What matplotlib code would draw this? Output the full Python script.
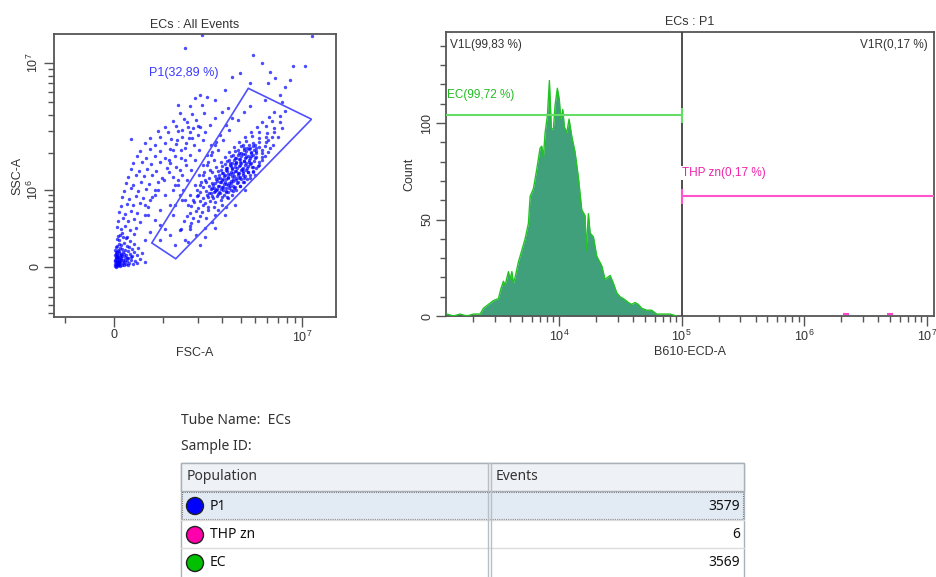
import matplotlib
matplotlib.use('Agg')
import matplotlib.pyplot as plt
from matplotlib.patches import Polygon, Circle, Rectangle
from matplotlib.ticker import NullFormatter

plt.rcParams['font.family'] = ['Liberation Sans', 'DejaVu Sans']
plt.rcParams['mathtext.fontset'] = 'custom'
plt.rcParams['mathtext.rm'] = 'Liberation Sans'
plt.rcParams['mathtext.it'] = 'Liberation Sans:italic'

M = 1e6  # scatter values below are in millions

# FSC-A / SSC-A events
debris_fsc = [0.02, 0.04, 0.06, 0.08, 0.10, 0.12, 0.15, 0.18, 0.22, 0.03, 0.05, 0.07, 0.09, 0.11, 0.14,
              0.17, 0.20, 0.25, 0.28, 0.03, 0.06, 0.08, 0.10, 0.13, 0.16, 0.19, 0.23, 0.27, 0.32, 0.36,
              0.04, 0.07, 0.11, 0.15, 0.21, 0.26, 0.30, 0.35, 0.40, 0.45, 0.05, 0.09, 0.13, 0.18, 0.24,
              0.29, 0.34, 0.39, 0.44, 0.50, 0.06, 0.10, 0.16, 0.22, 0.31, 0.38, 0.47, 0.55, 0.60, 0.12,
              0.01, 0.03, 0.05, 0.07, 0.09, 0.02, 0.04, 0.06, 0.08, 0.12, 0.01, 0.03, 0.05, 0.13, 0.16,
              0.02, 0.04, 0.07, 0.09, 0.11, 0.14, 0.19, 0.24, 0.01, 0.06, 0.10, 0.15, 0.20, 0.26, 0.33]
debris_ssc = [0.01, 0.02, 0.01, 0.03, 0.02, 0.04, 0.02, 0.05, 0.03, 0.05, 0.07, 0.05, 0.08, 0.06, 0.09,
              0.07, 0.10, 0.06, 0.04, 0.10, 0.12, 0.11, 0.14, 0.12, 0.15, 0.13, 0.12, 0.09, 0.07, 0.03,
              0.15, 0.17, 0.19, 0.18, 0.17, 0.16, 0.13, 0.11, 0.06, 0.04, 0.21, 0.23, 0.22, 0.24, 0.21,
              0.20, 0.18, 0.15, 0.12, 0.08, 0.28, 0.27, 0.30, 0.29, 0.26, 0.23, 0.19, 0.14, 0.05, 0.33,
              0.03, 0.00, 0.04, 0.02, 0.05, 0.07, 0.09, 0.03, 0.06, 0.01, 0.12, 0.13, 0.10, 0.07, 0.04,
              0.17, 0.20, 0.09, 0.16, 0.10, 0.13, 0.02, 0.09, 0.06, 0.15, 0.04, 0.11, 0.07, 0.02, 0.10]

plume_fsc = [0.076, 0.152, 0.25, 0.38, 0.057, 0.13, 0.21, 0.31, 0.42, 0.076, 0.17, 0.27, 0.39, 0.50,
             0.095, 0.21, 0.33, 0.44, 0.61, 0.13, 0.25, 0.37, 0.50, 0.67, 0.15, 0.29, 0.42, 0.57, 0.75,
             0.19, 0.33, 0.47, 0.63, 0.82, 0.23, 0.37, 0.52, 0.69, 0.89, 0.27, 0.42, 0.59, 0.75, 0.99,
             0.33, 0.48, 0.65, 0.84, 1.10, 0.37, 0.54, 0.73, 0.94, 1.18, 0.44, 0.63, 0.82, 1.06, 1.32,
             0.50, 0.71, 0.94, 1.18, 1.48, 0.61, 0.82, 1.06, 1.35, 1.63, 0.71, 0.94, 1.20, 1.50, 1.80,
             0.89, 1.13, 1.40, 1.75, 1.06, 1.35, 1.70, 2.00, 1.25, 1.57, 1.95, 1.45, 1.80, 2.23,
             1.40, 1.75, 2.15, 1.91, 2.35, 0.33]
plume_ssc = [0.32, 0.35, 0.31, 0.34, 0.42, 0.40, 0.43, 0.39, 0.41, 0.50, 0.53, 0.49, 0.52, 0.48,
             0.62, 0.59, 0.63, 0.60, 0.58, 0.71, 0.75, 0.72, 0.76, 0.70, 0.86, 0.83, 0.88, 0.84, 0.87,
             0.98, 1.03, 0.97, 1.02, 0.99, 1.15, 1.11, 1.17, 1.13, 1.16, 1.28, 1.33, 1.30, 1.35, 1.27,
             1.50, 1.44, 1.49, 1.45, 1.52, 1.66, 1.71, 1.64, 1.70, 1.67, 1.90, 1.84, 1.89, 1.85, 1.92,
             2.10, 2.17, 2.08, 2.15, 2.11, 2.40, 2.34, 2.42, 2.36, 2.41, 2.62, 2.70, 2.60, 2.68, 2.63,
             3.00, 2.93, 3.02, 2.95, 3.22, 3.30, 3.20, 3.28, 3.60, 3.70, 3.62, 4.15, 4.05, 4.12,
             4.75, 4.65, 4.80, 5.35, 5.45, 2.60]

between_fsc = [1.06, 1.32, 1.18, 1.45, 0.94, 1.60, 0.82, 1.25, 0.94, 1.18, 1.45, 1.06, 1.32, 0.71,
               1.75, 0.61, 1.60, 4.98, 5.54, 4.28, 3.67, 3.14, 2.68, 2.27, 6.05, 2.09,
               0.71, 0.89, 1.03, 1.15, 0.61, 0.82, 1.25, 1.40, 1.51, 0.94, 0.67, 1.32]
between_ssc = [0.90, 1.10, 0.73, 1.47, 0.65, 1.77, 0.51, 0.58, 0.27, 0.33, 0.385, 0.40, 0.22, 0.36,
               0.40, 0.27, 0.27, 1.34, 2.13, 1.00, 0.73, 0.58, 0.41, 0.30, 2.55, 0.22,
               0.81, 1.00, 1.22, 1.42, 0.73, 0.90, 1.00, 1.22, 0.81, 0.45, 0.58, 0.73]

# events straddling the upper-left edge of the gate
bridge_fsc = [1.69, 1.84, 1.98, 2.13, 2.23, 2.39, 2.55, 2.72, 1.75, 1.91, 2.05, 2.20, 2.35, 2.51,
              1.60, 1.54, 1.66, 1.78, 1.91, 2.05, 2.20, 1.45, 1.40, 1.51, 1.63, 1.75, 1.87, 2.02,
              1.25, 1.35, 1.48, 1.60, 1.72, 1.84, 1.15, 1.25, 1.37, 1.51, 1.66,
              2.09, 2.27, 2.47, 2.68, 3.00, 3.30]
bridge_ssc = [0.73, 0.81, 1.00, 1.17, 1.42, 1.71, 2.05, 2.46, 0.90, 1.10, 1.34, 1.62, 1.94, 2.33,
              0.81, 1.00, 1.22, 1.47, 1.77, 2.13, 2.55, 0.90, 1.10, 1.34, 1.62, 1.94, 2.33, 2.79,
              1.28, 1.56, 1.84, 2.21, 2.65, 3.16, 1.77, 2.13, 2.55, 3.05, 3.53,
              3.22, 2.94, 3.34, 3.80, 4.21, 4.50]

cells_fsc = [1.48, 1.75, 1.57, 1.78, 2.02, 1.66, 1.84, 2.09, 2.31, 1.75, 1.95, 2.16, 2.39,
             1.78, 2.02, 2.20, 2.39, 2.64, 1.87, 2.09, 2.27, 2.47, 2.68, 2.95,
             1.98, 2.20, 2.39, 2.60, 2.77, 3.00, 3.24, 2.09, 2.31, 2.51, 2.68, 2.86, 3.04, 3.30, 3.56,
             2.20, 2.43, 2.64, 2.81, 3.00, 3.19, 3.40, 3.67, 3.96,
             2.31, 2.55, 2.77, 2.95, 3.14, 3.35, 3.56, 3.84, 4.15,
             2.43, 2.68, 2.90, 3.09, 3.30, 3.51, 3.73, 3.96, 4.28, 4.62,
             2.55, 2.81, 3.04, 3.24, 3.45, 3.67, 3.90, 4.15, 4.48, 4.84,
             2.72, 3.00, 3.24, 3.45, 3.67, 3.90, 4.15, 4.48, 4.84, 5.21,
             2.95, 3.24, 3.51, 3.73, 3.96, 4.22, 4.55, 4.91, 5.29,
             3.14, 3.45, 3.73, 4.02, 4.35, 4.69, 5.06, 5.54,
             3.35, 3.67, 4.02, 4.35, 4.69, 5.06, 5.54, 3.62, 4.02, 4.42, 4.84, 5.29, 5.78,
             3.90, 4.35, 4.84, 5.29, 5.87, 4.28, 4.76, 5.29, 5.87, 6.43,
             4.69, 5.29, 5.96, 6.63, 5.14, 5.87, 6.63, 5.54, 6.43, 7.23, 6.14, 7.23, 6.63, 7.8]
cells_ssc = [0.40, 0.43, 0.49, 0.47, 0.50, 0.56, 0.53, 0.57, 0.54, 0.61, 0.64, 0.62, 0.65,
             0.71, 0.68, 0.72, 0.69, 0.70, 0.77, 0.80, 0.76, 0.79, 0.78, 0.81,
             0.88, 0.85, 0.87, 0.84, 0.89, 0.86, 0.87, 0.95, 0.98, 0.94, 0.97, 0.96, 0.99, 0.95, 0.97,
             1.05, 1.08, 1.03, 1.07, 1.06, 1.04, 1.08, 1.05, 1.07,
             1.17, 1.14, 1.19, 1.16, 1.18, 1.15, 1.20, 1.16, 1.17,
             1.27, 1.31, 1.26, 1.30, 1.28, 1.32, 1.27, 1.29, 1.30, 1.26,
             1.41, 1.44, 1.39, 1.43, 1.42, 1.45, 1.40, 1.43, 1.41, 1.44,
             1.55, 1.58, 1.53, 1.57, 1.56, 1.59, 1.54, 1.57, 1.55, 1.58,
             1.70, 1.74, 1.69, 1.72, 1.71, 1.75, 1.70, 1.73, 1.72,
             1.86, 1.90, 1.85, 1.89, 1.87, 1.91, 1.86, 1.88,
             2.04, 2.08, 2.02, 2.07, 2.05, 2.09, 2.03, 2.24, 2.28, 2.22, 2.27, 2.25, 2.29,
             2.45, 2.49, 2.43, 2.48, 2.46, 2.68, 2.72, 2.66, 2.71, 2.69,
             2.93, 2.97, 2.91, 2.96, 3.21, 3.25, 3.19, 3.52, 3.56, 3.50, 3.85, 3.90, 4.20, 4.25]

core_fsc = [2.35, 2.55, 2.81, 3.09, 2.51, 2.72, 2.95, 3.19, 3.45, 2.60, 2.86, 3.09, 3.30, 3.56,
            2.72, 3.00, 3.19, 3.45, 3.73, 4.02, 2.86, 3.14, 3.40, 3.62, 3.84, 4.15,
            2.95, 3.19, 3.51, 3.73, 4.02, 4.35, 3.14, 3.40, 3.67, 3.96, 4.28, 4.62,
            3.35, 3.62, 3.90, 4.22, 4.55, 3.56, 3.84, 4.15, 4.48, 4.84,
            3.84, 4.22, 4.55, 4.91, 4.15, 4.55, 4.98,
            2.43, 2.64, 2.90, 3.19, 2.55, 2.77, 3.04, 3.35, 3.62, 2.68, 2.90, 3.19, 3.45, 3.79,
            2.81, 3.04, 3.30, 3.56, 3.90, 4.22, 3.00, 3.30, 3.56, 3.84, 4.15, 4.48,
            3.19, 3.51, 3.79, 4.09, 4.42, 4.76, 3.40, 3.73, 4.02, 4.35, 4.69,
            3.67, 3.96, 4.28, 4.62, 4.98, 3.90, 4.28, 4.69, 5.06, 4.22, 4.62, 5.06]
core_ssc = [0.91, 0.89, 0.92, 0.90, 1.01, 0.99, 1.02, 0.98, 1.00, 1.11, 1.09, 1.12, 1.10, 1.08,
            1.23, 1.21, 1.24, 1.20, 1.22, 1.23, 1.35, 1.33, 1.36, 1.32, 1.34, 1.35,
            1.48, 1.46, 1.49, 1.45, 1.47, 1.48, 1.63, 1.61, 1.64, 1.60, 1.62, 1.63,
            1.78, 1.76, 1.79, 1.75, 1.77, 1.95, 1.93, 1.96, 1.92, 1.94,
            2.14, 2.12, 2.15, 2.11, 2.34, 2.32, 2.35,
            0.94, 0.96, 0.93, 0.95, 1.04, 1.02, 1.05, 1.03, 1.04, 1.14, 1.16, 1.13, 1.15, 1.14,
            1.26, 1.25, 1.27, 1.24, 1.26, 1.27, 1.39, 1.37, 1.40, 1.38, 1.39, 1.41,
            1.53, 1.52, 1.54, 1.51, 1.53, 1.55, 1.68, 1.66, 1.69, 1.67, 1.68,
            1.84, 1.82, 1.85, 1.83, 1.84, 2.01, 1.99, 2.02, 2.00, 2.21, 2.19, 2.22]

# outer spread of the gated cluster, both flanks
flank_fsc = [2.09, 2.20, 2.35, 2.51, 2.68, 2.90, 3.19, 3.51, 2.02, 2.27, 2.47, 2.64, 2.81, 3.04,
             3.35, 3.84, 4.22, 4.62,
             3.00, 3.30, 3.73, 4.22, 4.62, 5.06, 5.54, 6.05, 6.53, 7.03, 7.45, 2.81, 3.51, 3.96,
             4.42, 4.84, 5.29, 5.78, 6.23, 2.55, 2.27, 1.95, 1.69, 2.68, 3.19]
flank_ssc = [1.10, 1.34, 1.62, 1.94, 2.33, 2.79, 3.34, 3.80, 0.90, 1.22, 1.47, 1.77, 2.13, 2.55,
             3.05, 3.65, 4.21, 4.70,
             0.73, 0.85, 1.00, 1.17, 1.34, 1.53, 1.77, 2.05, 2.33, 2.69, 3.16, 0.65, 0.90, 1.08,
             1.25, 1.42, 1.62, 1.91, 2.21, 0.48, 0.41, 0.33, 0.25, 0.58, 0.70]

sparse_fsc = [2.16, 1.60, 4.84, 5.54, 8.8, 10.45, 11.5, 3.96, 4.62, 6.7, 7.8, 6.23, 3.14, 2.68,
              2.09, 8.39, 7.23, 5.78, 6.05, 7.4, 3.5]
sparse_ssc = [16.4, 13.0, 11.5, 10.0, 9.5, 9.5, 16.0, 8.4, 7.0, 7.7, 6.5, 8.6, 6.2, 5.2,
              5.7, 7.4, 5.7, 5.2, 7.0, 5.0, 7.8]

# P1 gate vertices (FSC, SSC in millions)
gate_fsc = [0.75, 4.5, 11.5, 1.33]
gate_ssc = [0.24, 6.4, 3.7, 0.08]

# B610-ECD-A histogram of P1
b610 = [1217, 1376, 1561, 1770, 2004, 2271, 2416, 2655, 2917, 3201, 3350, 3517, 3631, 3864, 3990,
        4121, 4245, 4378, 4660, 4966, 5284, 5623, 5808, 6177, 6577, 6998, 7228, 7447, 7691, 8035,
        8337, 8650, 8991, 9268, 9683, 10050, 10320, 10720, 11040, 11560, 12060, 12700, 13490,
        14360, 15310, 16290, 16600, 17340, 17910, 19050, 20280, 22280, 23710, 26060, 27730,
        29510, 31410, 33440, 36730, 39170, 41620, 44290, 47210, 51880, 56890, 62520, 70790,
        80350, 90990]
counts = [1, 0, 1, 0, 1, 1, 4, 6, 8, 9, 14, 18, 16, 23, 19, 23, 17, 20, 28, 34, 40, 48, 62, 66,
          76, 87, 88, 82, 95, 104, 122, 97, 97, 109, 118, 112, 102, 107, 98, 95, 102, 93, 85, 72,
          55, 52, 34, 53, 43, 41, 31, 26, 19, 21, 17, 12, 10, 9, 7, 6, 7, 6, 4, 3, 3, 1, 1, 1, 0]
thp_b610 = [2.2e6, 5.0e6]
thp_counts = [1, 1]

ec_gate_level = 104
thp_gate_level = 62
v1_split = 1e5

populations = ['P1', 'THP zn', 'EC']
events = [3579, 6, 3569]
pop_colors = ['#0000ff', '#ff00aa', '#00c000']

fig = plt.figure(figsize=(9.36, 5.77), dpi=100)
W, H = 936, 577
spine_col = '#555555'
txt_col = '#333333'

# ---------- FSC/SSC dot plot ----------
ax1 = fig.add_axes([54 / W, 1 - 317 / H, 282 / W, 283 / H])
ax1.set_xscale('asinh', linear_width=1.3e6)
ax1.set_yscale('asinh', linear_width=5.5e5)
for fx, sy in [(debris_fsc, debris_ssc), (plume_fsc, plume_ssc), (between_fsc, between_ssc),
               (bridge_fsc, bridge_ssc), (cells_fsc, cells_ssc), (core_fsc, core_ssc),
               (flank_fsc, flank_ssc), (sparse_fsc, sparse_ssc)]:
    ax1.scatter([v * M for v in fx], [v * M for v in sy], s=6, color='#0000ff',
                alpha=0.7, linewidths=0, zorder=2)
gate = Polygon([(a * M, b * M) for a, b in zip(gate_fsc, gate_ssc)], closed=True,
               fill=False, edgecolor='#5050ff', lw=1.2, zorder=3)
ax1.add_patch(gate)
ax1.text(0.337, 0.862, 'P1(32,89 %)', transform=ax1.transAxes, color='#3a3aff',
         fontsize=9, va='center', ha='left')
ax1.set_xlim(-1.29e6, 1.645e7)
ax1.set_ylim(-5.5e5, 1.67e7)
ax1.set_xticks([0, 1e7], ['0', r'$10^7$'])
ax1.set_xticks([-1e6] + [k * 1e6 for k in range(1, 10)], minor=True)
ax1.set_yticks([0, 1e6, 1e7], ['0', r'$10^6$', r'$10^7$'])
ax1.set_yticks([k * 1e5 for k in range(-5, 0)] + [k * 1e5 for k in range(1, 10)]
               + [k * 1e6 for k in range(2, 10)], minor=True)
ax1.xaxis.set_minor_formatter(NullFormatter())
ax1.yaxis.set_minor_formatter(NullFormatter())
for lbl in ax1.get_yticklabels():
    lbl.set_rotation(90)
    lbl.set_va('center')
ax1.tick_params(which='major', direction='out', length=7, width=1, color=spine_col,
                labelsize=9, labelcolor=txt_col, pad=2)
ax1.tick_params(which='minor', direction='out', length=4, width=1, color=spine_col)
for sp in ax1.spines.values():
    sp.set_color(spine_col)
    sp.set_linewidth(1.3)
ax1.set_title('ECs : All Events', fontsize=9, color=txt_col, pad=4)
ax1.set_xlabel('FSC-A', fontsize=9, color=txt_col, labelpad=2)
ax1.set_ylabel('SSC-A', fontsize=9, color=txt_col, labelpad=2)

# ---------- B610-ECD-A histogram ----------
ax2 = fig.add_axes([445.7 / W, 1 - 316 / H, 488.3 / W, 283.7 / H])
ax2.set_xscale('log')
ax2.fill_between(b610, counts, color='#40a07c', lw=0, zorder=2)
ax2.plot(b610, counts, color='#22c422', lw=1.0, zorder=3)
ax2.plot(thp_b610, thp_counts, linestyle='none', marker='_', ms=4, mew=1.5,
         color='#ff44cc', zorder=3)
ax2.axvline(v1_split, color='#404040', lw=1.3, zorder=4)
ax2.hlines(ec_gate_level, 1.19e3, v1_split, color='#66dd66', lw=1.5, zorder=4)
ax2.vlines(v1_split, ec_gate_level - 4, ec_gate_level + 4, color='#66dd66', lw=1.5, zorder=5)
ax2.hlines(thp_gate_level, v1_split, 1.14e7, color='#ff55cc', lw=1.5, zorder=4)
ax2.vlines(v1_split, thp_gate_level - 4, thp_gate_level + 4, color='#ff55cc', lw=1.5, zorder=5)
ax2.text(0.009, 0.955, 'V1L(99,83 %)', transform=ax2.transAxes, fontsize=8.5,
         color=txt_col, va='center', ha='left')
ax2.text(0.988, 0.955, 'V1R(0,17 %)', transform=ax2.transAxes, fontsize=8.5,
         color=txt_col, va='center', ha='right')
ax2.text(0.002, 0.779, 'EC(99,72 %)', transform=ax2.transAxes, fontsize=8.5,
         color='#22bb22', va='center', ha='left')
ax2.text(v1_split, 74, 'THP zn(0,17 %)', fontsize=8.5, color='#ee22aa', va='center', ha='left',
         bbox=dict(facecolor='white', edgecolor='none', pad=0.5), zorder=6)
ax2.set_xlim(1.19e3, 1.14e7)
ax2.set_ylim(0, 147)
ax2.set_xticks([1e4, 1e5, 1e6, 1e7], [r'$10^4$', r'$10^5$', r'$10^6$', r'$10^7$'])
ax2.set_xticks([m * 10 ** e for e in range(3, 7) for m in range(2, 10) if m * 10 ** e > 1.19e3],
               minor=True)
ax2.xaxis.set_minor_formatter(NullFormatter())
ax2.set_yticks([0, 50, 100], ['0', '50', '100'])
ax2.set_yticks([k for k in range(10, 150, 10) if k not in (50, 100)], minor=True)
for lbl in ax2.get_yticklabels():
    lbl.set_rotation(90)
    lbl.set_va('center')
ax2.tick_params(which='major', direction='out', length=7, width=1, color=spine_col,
                labelsize=9, labelcolor=txt_col, pad=2)
ax2.tick_params(which='minor', direction='out', length=4, width=1, color=spine_col)
for sp in ax2.spines.values():
    sp.set_color(spine_col)
    sp.set_linewidth(1.3)
ax2.set_title('ECs : P1', fontsize=9, color=txt_col, pad=5)
ax2.set_xlabel('B610-ECD-A', fontsize=9, color=txt_col, labelpad=2)
ax2.set_ylabel('Count', fontsize=9, color=txt_col, labelpad=4)

# ---------- population table ----------
tab = fig.add_axes([0, 0, 1, 1], zorder=-1)
tab.set_xlim(0, W)
tab.set_ylim(H, 0)
tab.axis('off')
tfont = ['Noto Sans', 'DejaVu Sans']
tab.text(181, 420, 'Tube Name:  ECs', fontsize=10, color=txt_col, va='center', family=tfont)
tab.text(181, 446, 'Sample ID:', fontsize=10, color=txt_col, va='center', family=tfont)
tab.add_patch(Rectangle((181, 463), 563, 120, facecolor='white', edgecolor='#a8b0b8', lw=1))
tab.add_patch(Rectangle((181, 463), 563, 28, facecolor='#eef1f5', edgecolor='#a8b0b8', lw=1))
tab.text(187, 477, 'Population', fontsize=10, color=txt_col, va='center', family=tfont)
tab.text(496, 477, 'Events', fontsize=10, color=txt_col, va='center', family=tfont)
row_tops = [492, 521, 549]
for i, (name, ev, col) in enumerate(zip(populations, events, pop_colors)):
    top = row_tops[i]
    if i == 0:
        tab.add_patch(Rectangle((182, top), 561, 27, facecolor='#e2eaf4', edgecolor='#7a7a7a',
                                lw=0.8, linestyle=(0, (1, 1))))
    else:
        tab.plot([181, 744], [top - 1, top - 1], color='#dcdcdc', lw=1)
    cy = top + 14
    tab.add_patch(Circle((195, cy), 8.5, facecolor=col, edgecolor='#222222', lw=1))
    tab.text(210, cy, name, fontsize=10, color='#111111', va='center', family=tfont)
    tab.text(740, cy, str(ev), fontsize=10, color='#111111', va='center', ha='right',
             family=tfont)
tab.plot([487.5, 487.5], [463, 577], color='#b8bec4', lw=1)
tab.plot([490.5, 490.5], [463, 577], color='#b8bec4', lw=1)

fig.savefig('out.png', dpi=100)
